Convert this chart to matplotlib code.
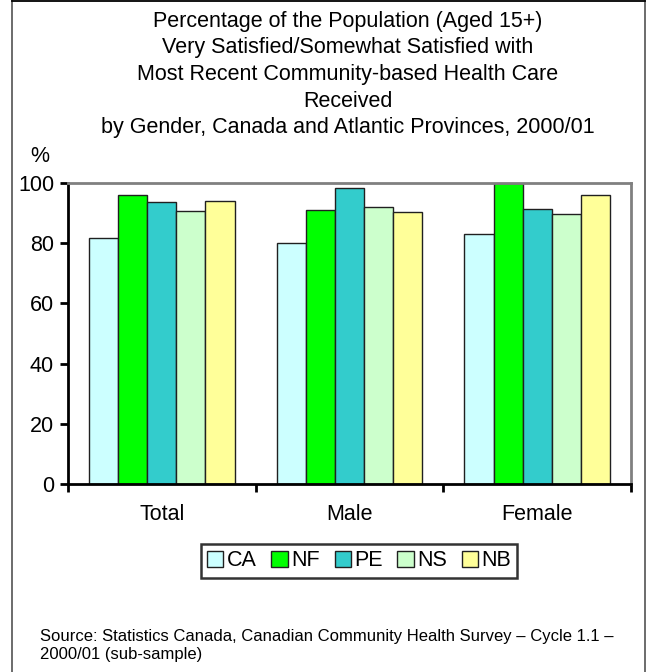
import matplotlib
matplotlib.use("Agg")
import matplotlib.pyplot as plt
import numpy as np
from matplotlib.lines import Line2D

plt.rcParams['font.family'] = ['Liberation Sans', 'DejaVu Sans']

categories = ["Total", "Male", "Female"]
series = ["CA", "NF", "PE", "NS", "NB"]
CA = [81.7, 80.0, 83.0]
NF = [96.0, 91.1, 100.0]
PE = [93.7, 98.2, 91.2]
NS = [90.7, 92.0, 89.7]
NB = [94.0, 90.3, 96.0]
values = [CA, NF, PE, NS, NB]
colors = ["#CCFFFF", "#00FF00", "#33CCCC", "#CCFFCC", "#FFFF99"]
yticks = [0, 20, 40, 60, 80, 100]

W, H = 649, 672
fig = plt.figure(figsize=(W / 100, H / 100), dpi=100)

# outer border (open at the bottom)
fig.add_artist(Line2D([12 / W, 12 / W], [0, 1 - 1 / H], transform=fig.transFigure, color="#606060", lw=1.3))
fig.add_artist(Line2D([645 / W, 645 / W], [0, 1 - 1 / H], transform=fig.transFigure, color="#606060", lw=1.3))
fig.add_artist(Line2D([12 / W, 645 / W], [1 - 1 / H, 1 - 1 / H], transform=fig.transFigure, color="black", lw=1.3))

left, right, top, bottom = 68, 631, 183, 484
ax = fig.add_axes([left / W, 1 - bottom / H, (right - left) / W, (bottom - top) / H])

bw = 0.155
x = np.arange(len(categories)) + 0.5
handles = []
for i, (s, v, c) in enumerate(zip(series, values, colors)):
    b = ax.bar(x + (i - 2) * bw, v, width=bw, color=c, edgecolor="#202020", linewidth=1.0, label=s)
    handles.append(b)

ax.set_xlim(0, 3)
ax.set_ylim(0, 100)
ax.set_yticks(yticks)
ax.set_yticklabels([str(t) for t in yticks], fontsize=15.5)
ax.set_xticks([0, 1, 2, 3])
ax.set_xticklabels([])
ax.tick_params(axis='y', direction='out', length=6, width=2, pad=4)
ax.tick_params(axis='x', direction='out', length=6, width=2)
for xi, cat in zip(x, categories):
    ax.text(xi, -10, cat, ha='center', va='center', fontsize=15.5, transform=ax.transData)

for s in ['left', 'bottom']:
    ax.spines[s].set_color('black')
    ax.spines[s].set_linewidth(2)
for s in ['top', 'right']:
    ax.spines[s].set_color('#808080')
    ax.spines[s].set_linewidth(2)

title_lines = [
    "Percentage of the Population (Aged 15+)",
    "Very Satisfied/Somewhat Satisfied with",
    "Most Recent Community-based Health Care",
    "Received",
    "by Gender, Canada and Atlantic Provinces, 2000/01",
]
for k, line in enumerate(title_lines):
    fig.text(348 / W, 1 - (21 + 26.7 * k) / H, line, ha='center', va='center', fontsize=15.5)

fig.text(40 / W, 1 - 157 / H, "%", ha='center', va='center', fontsize=15.5)

leg = fig.legend(handles=handles, labels=series, loc='center', bbox_to_anchor=(359 / W, 1 - 561 / H),
                 ncol=5, fontsize=15.5, frameon=True, fancybox=False, edgecolor='black',
                 handlelength=0.75, handleheight=0.75, handletextpad=0.15, columnspacing=0.7,
                 borderpad=0.3, borderaxespad=0)
leg.get_frame().set_linewidth(1.8)

fig.text(40 / W, 1 - 636 / H, "Source: Statistics Canada, Canadian Community Health Survey \u2013 Cycle 1.1 \u2013",
         ha='left', va='center', fontsize=12)
fig.text(40 / W, 1 - 655 / H, "2000/01 (sub-sample)", ha='left', va='center', fontsize=12)

fig.savefig("out.png", dpi=100)
